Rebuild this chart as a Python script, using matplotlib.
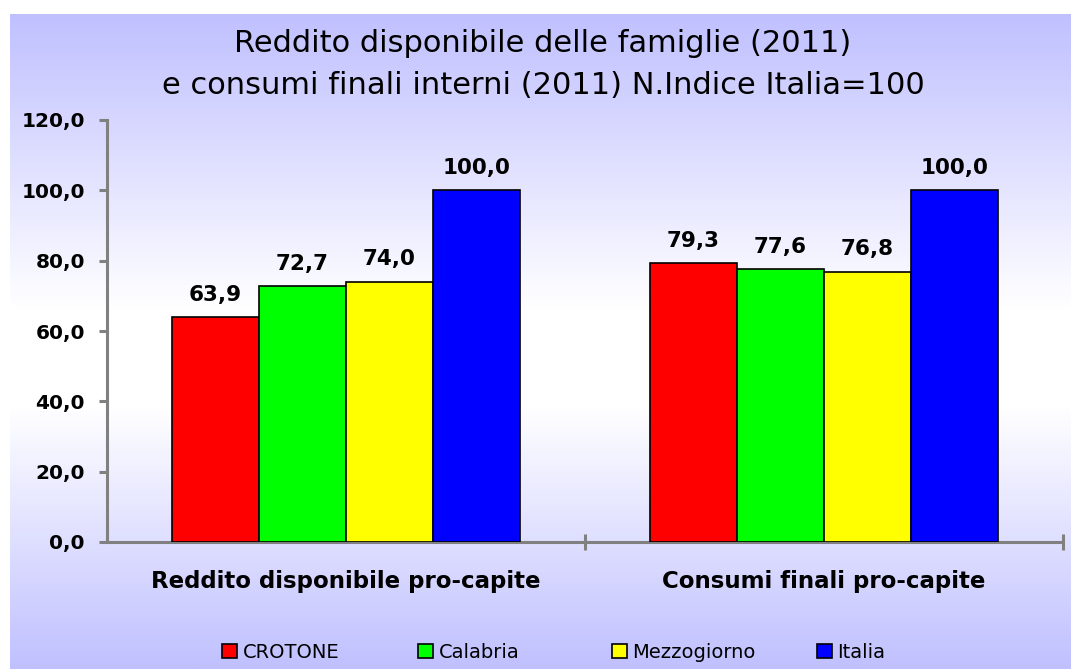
import numpy as np
import matplotlib.pyplot as plt
from matplotlib.colors import LinearSegmentedColormap

categories = ['Reddito disponibile pro-capite', 'Consumi finali pro-capite']
series = ['CROTONE', 'Calabria', 'Mezzogiorno', 'Italia']
values = {
    'CROTONE': [63.9, 79.3],
    'Calabria': [72.7, 77.6],
    'Mezzogiorno': [74.0, 76.8],
    'Italia': [100.0, 100.0],
}
colors = ['#ff0000', '#00ff00', '#ffff00', '#0000ff']
yticks = [0, 20, 40, 60, 80, 100, 120]
legend_x = [222, 418, 612, 817]  # left edge of each legend entry, px

gray = '#808080'

fig = plt.figure(figsize=(10.71, 6.69), dpi=100)

# gradient background (lavender - white - lavender)
bg = fig.add_axes([10 / 1071, 0, 1 - 10 / 1071, 1 - 14 / 669], zorder=-10)
cmap = LinearSegmentedColormap.from_list(
    'bg', [(0.0, '#c0c0ff'), (0.45, '#ffffff'), (0.6, '#ffffff'), (1.0, '#c0c0ff')])
grad = np.linspace(0, 1, 256).reshape(-1, 1)
bg.imshow(grad, aspect='auto', cmap=cmap, extent=[0, 1, 0, 1], origin='upper')
bg.set_axis_off()

ax = fig.add_axes([107 / 1071, 1 - 542 / 669, (1063 - 107) / 1071, (542 - 120) / 669])
ax.patch.set_alpha(0)

x = np.arange(len(categories))
w = 0.182
handles = []
for i, (name, col) in enumerate(zip(series, colors)):
    pos = x + (i - 1.5) * w
    bars = ax.bar(pos, values[name], width=w, color=col, edgecolor='black',
                  linewidth=1.2, label=name, zorder=3)
    handles.append(bars)
    for b, v in zip(bars, values[name]):
        ax.annotate(f'{v:.1f}'.replace('.', ','), (b.get_x() + b.get_width() / 2, v),
                    xytext=(0, 9), textcoords='offset points', ha='center', va='bottom',
                    fontsize=15.5, fontweight='bold', color='black')

ax.set_xlim(-0.5, 1.5)
ax.set_ylim(0, 120)
ax.set_yticks(yticks)
ax.set_yticklabels([f'{v:.1f}'.replace('.', ',') for v in yticks],
                   fontsize=14.5, fontweight='bold')
ax.set_xticks([0.5, 1.5])
ax.set_xticklabels([])
ax.set_xticks(x, minor=True)
ax.set_xticklabels(categories, minor=True, fontsize=16.5, fontweight='bold')
ax.tick_params(axis='x', which='major', direction='inout', length=12, width=2.2, color=gray)
ax.tick_params(axis='x', which='minor', length=0, pad=20)
ax.tick_params(axis='y', direction='out', length=6, width=2.2, color=gray, pad=10)
for s in ['top', 'right']:
    ax.spines[s].set_visible(False)
for s in ['left', 'bottom']:
    ax.spines[s].set_color(gray)
    ax.spines[s].set_linewidth(2.2)

fig.text(0.507, 1 - 43 / 669, 'Reddito disponibile delle famiglie (2011)',
         ha='center', va='center', fontsize=22)
fig.text(0.507, 1 - 86 / 669, 'e consumi finali interni (2011) N.Indice Italia=100',
         ha='center', va='center', fontsize=22)

# one legend per entry so the columns are evenly spaced like the original
for h, name, lx in zip(handles, series, legend_x):
    lg = fig.legend([h], [name], loc='center left', bbox_to_anchor=(lx / 1071, 1 - 652 / 669),
                    frameon=False, borderpad=0, borderaxespad=0,
                    handlelength=0.75, handleheight=0.75, handletextpad=0.3,
                    prop={'size': 14})

fig.savefig('out.png', dpi=100)
